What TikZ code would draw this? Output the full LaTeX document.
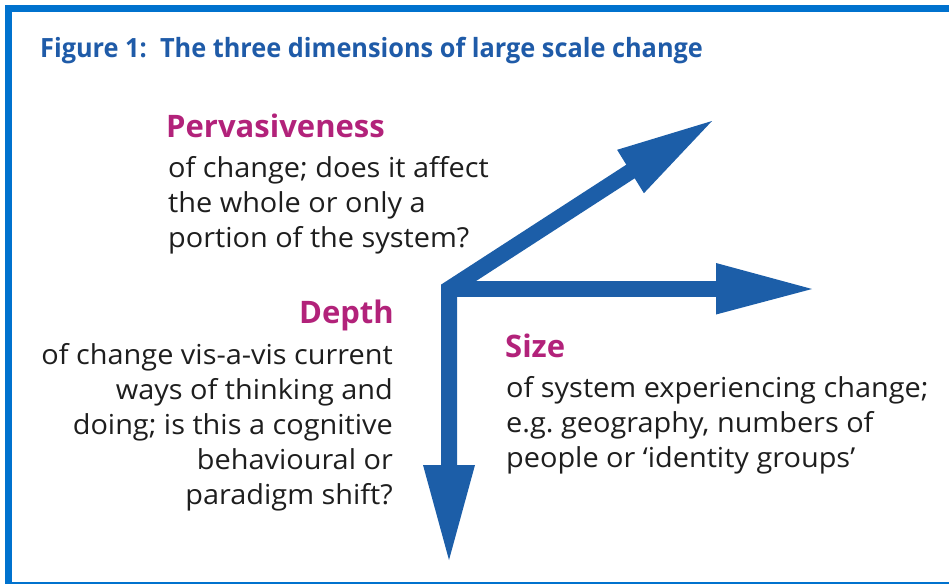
\documentclass[tikz,border=0pt]{standalone}
\usepackage{fontspec}
\setmainfont{Open Sans}
\newfontfamily\titlefont[FakeStretch=0.955]{Open Sans}
\newfontfamily\bodyfont[FakeStretch=1.05]{Open Sans}
\usetikzlibrary{calc}
\frenchspacing
\definecolor{framecol}{RGB}{0,114,206}
\definecolor{arrowcol}{RGB}{28,94,168}
\definecolor{titlecol}{RGB}{31,91,168}
\definecolor{headcol}{RGB}{178,34,122}
\definecolor{bodycol}{RGB}{30,30,30}
\tikzset{
  titletext/.style={inner sep=0pt, text=titlecol, font=\titlefont\fontsize{26.5}{32}\selectfont\bfseries},
  headtext/.style={inner sep=0pt, text=headcol, font=\fontsize{31}{36}\selectfont\bfseries},
  bodytext/.style={inner sep=0pt, text=bodycol, font=\bodyfont\fontsize{27.5}{35}\selectfont},
  shaft/.style={draw=arrowcol, line width=16pt, line join=miter, line cap=butt},
  headtip/.style={fill=arrowcol, draw=none},
}
\begin{document}
\begin{tikzpicture}[x=1pt, y=-1pt]
\useasboundingbox (0,0) rectangle (949,584);
% frame
\fill[framecol] (5,5) rectangle (949,12);
\fill[framecol] (5,5) rectangle (12,584);
\fill[framecol] (5,582) rectangle (949,583.6);
% title
\node[titletext, anchor=base west] (title) at (40,57) {Figure 1:\ \ The three dimensions of large scale change};
% arrows
\coordinate (O) at (449,289);
\coordinate (dBase) at (630.5,171.5);
\coordinate (dTip) at (712,121);
\coordinate (dL) at (617.1,149.8);
\coordinate (dR) at (643.9,193.2);
\coordinate (hBase) at (716,289);
\coordinate (hTip) at (812,289);
\coordinate (vBase) at (449,465);
\coordinate (vTip) at (449,560);
\draw[shaft] ($(dBase)!-3pt!(O)$) -- (O) -- ($(vBase)+(0,3)$);
\draw[shaft] (O) -- ($(hBase)+(3,0)$);
\fill[headtip] (dL) -- (dTip) -- (dR) -- cycle;
\fill[headtip] (716,263) -- (hTip) -- (716,314.5) -- cycle;
\fill[headtip] (423,465) -- (vTip) -- (475,465) -- cycle;
% Pervasiveness
\node[headtext, anchor=base west] (pH) at (166,137) {Pervasiveness};
\node[bodytext, anchor=base west] (p1) at (168,177) {of change; does it affect};
\node[bodytext, anchor=base west] (p2) at (168,212) {the whole or only a};
\node[bodytext, anchor=base west] (p3) at (168,247) {portion of the system?};
% Depth
\node[headtext, anchor=base east] (dH) at (394,323) {Depth};
\node[bodytext, anchor=base east] (d1) at (393,364) {of change vis-a-vis current};
\node[bodytext, anchor=base east] (d2) at (393,399) {ways of thinking and};
\node[bodytext, anchor=base east] (d3) at (393,434) {doing; is this a cognitive};
\node[bodytext, anchor=base east] (d4) at (393,469) {behavioural or};
\node[bodytext, anchor=base east] (d5) at (393,504) {paradigm shift?};
% Size
\node[headtext, anchor=base west] (sH) at (505,357) {Size};
\node[bodytext, anchor=base west] (s1) at (506,397) {of system experiencing change;};
\node[bodytext, anchor=base west] (s2) at (506,432) {e.g. geography, numbers of};
\node[bodytext, anchor=base west] (s3) at (506,467) {people or ‘identity groups’};
\end{tikzpicture}
\end{document}
